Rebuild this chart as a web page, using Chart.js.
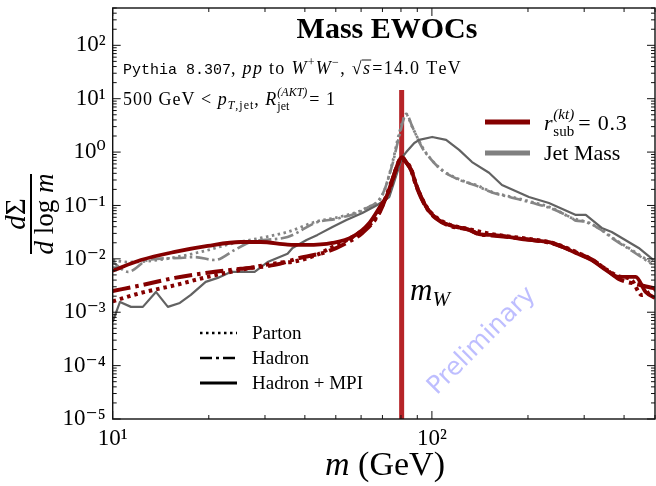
<!DOCTYPE html>
<html><head><meta charset="utf-8">
<script src="https://cdn.jsdelivr.net/npm/chart.js@4.4.0/dist/chart.umd.min.js"></script>
<style>html,body{margin:0;padding:0;background:#fff}#wrap{width:656px;height:486px}</style>
</head><body><div id="wrap"><canvas id="c" width="656" height="486"></canvas></div>
<script>
// ---------------- data ----------------
const mW = 80.4;
const mWLineTop = 14.5;
const xMin = 10, xMax = 500, yMin = 1e-5, yMax = 500;
const xTickValues = [10, 100];
const xTickLabels = ['10\u00b9', '10\u00b2'];
const yTickValues = [1e-5, 1e-4, 1e-3, 1e-2, 1e-1, 1, 10, 100];
const yTickLabels = ['10\u207b\u2075', '10\u207b\u2074', '10\u207b\u00b3', '10\u207b\u00b2', '10\u207b\u00b9', '10\u2070', '10\u00b9', '10\u00b2'];

// r_sub^(kt)=0.3 : Hadron + MPI (solid)
const subMpiX = [10, 12.26, 15.65, 19.85, 25.17, 29.07, 35.3, 40.48, 48.8, 56.36, 63.68, 69.93, 71.98, 75.15, 79.05, 80.8, 83.13, 86.18, 89.34, 95.98, 103.1, 113.3, 130.8, 140.5, 154.3, 201.4, 237.7, 282.5, 316.9, 350.5, 384.8, 434.9, 467.4, 500];
const subMpiY = [0.0060, 0.0095, 0.0135, 0.0175, 0.0207, 0.0207, 0.0185, 0.0182, 0.0199, 0.0257, 0.047, 0.111, 0.144, 0.30, 0.70, 0.80, 0.64, 0.46, 0.24, 0.094, 0.058, 0.043, 0.035, 0.029, 0.028, 0.0226, 0.0199, 0.0129, 0.0095, 0.0062, 0.0046, 0.0046, 0.0024, 0.00185];
// r_sub : Hadron (dash-dot)
const subHadX = [10, 12.26, 15.65, 19.85, 25.17, 32.16, 38.48, 46.74, 53.98, 60.55, 68.43, 75.15, 80.2, 83.13, 86.18, 89.34, 95.98, 103.1, 113.3, 130.8, 140.5, 154.3, 201.4, 237.7, 282.5, 316.9, 350.5, 384.8, 444.5, 484.5, 500];
const subHadY = [0.0025, 0.0032, 0.0044, 0.0055, 0.0065, 0.0077, 0.0104, 0.0135, 0.0199, 0.0306, 0.0724, 0.30, 0.76, 0.64, 0.45, 0.23, 0.092, 0.057, 0.042, 0.035, 0.029, 0.0275, 0.023, 0.0195, 0.0132, 0.0097, 0.0064, 0.0042, 0.0033, 0.0029, 0.0028];
// r_sub : Parton (dotted)
const subPartonX = [10, 12.26, 15.65, 19.85, 25.17, 33.57, 36.59, 43.49, 48.8, 56.36, 66.96, 73.55, 80.2, 83.13, 86.18, 89.34, 95.98, 103.1, 113.3, 130.8, 154.3, 201.4, 237.7, 282.5, 316.9, 350.5, 384.8, 422.6, 454.2, 500];
const subPartonY = [0.0016, 0.0023, 0.0032, 0.0046, 0.0062, 0.0085, 0.0088, 0.0118, 0.0167, 0.0257, 0.061, 0.195, 0.72, 0.66, 0.47, 0.24, 0.096, 0.060, 0.044, 0.036, 0.029, 0.0235, 0.020, 0.0135, 0.0097, 0.0064, 0.0047, 0.0040, 0.0021, 0.0027];
// Jet mass : Hadron + MPI (solid)
const jetMpiX = [10, 10.54, 11.41, 12.43, 13.66, 14.89, 16.23, 17.57, 19.56, 21.33, 23.43, 27.84, 30.57, 35.3, 36.59, 40.48, 43.81, 48.8, 53.98, 60.55, 67.45, 73.55, 80.79, 83.13, 88.07, 91.27, 100.2, 110.8, 121.7, 133.6, 151.0, 165.8, 201.4, 232.6, 282.5, 303.5, 340.5, 366.0, 444.5, 495];
const jetMpiY = [0.00066, 0.00156, 0.00126, 0.00126, 0.0024, 0.00126, 0.00149, 0.00211, 0.0037, 0.0044, 0.0057, 0.0057, 0.0087, 0.0125, 0.016, 0.0226, 0.0281, 0.0396, 0.0535, 0.0724, 0.102, 0.144, 0.81, 1.0, 1.48, 1.69, 1.92, 1.69, 1.10, 0.65, 0.41, 0.242, 0.144, 0.111, 0.0664, 0.0664, 0.0379, 0.0319, 0.016, 0.0095];
// Jet mass : Hadron (dash-dot)
const jetHadX = [10, 11.16, 12.89, 16.35, 18.08, 20.87, 24.11, 27.05, 35.3, 43.49, 51.32, 62.32, 69.93, 75.15, 79.05, 83.13, 86.8, 93.27, 98.08, 107.7, 119.1, 130.8, 137.5, 154.3, 178.2, 205.8, 237.7, 274.4, 282.5, 303.5, 333.3, 376.7, 422.6, 488];
const jetHadY = [0.0088, 0.0057, 0.0095, 0.0104, 0.0108, 0.0095, 0.0147, 0.0207, 0.0257, 0.048, 0.058, 0.088, 0.16, 0.58, 2.0, 5.2, 3.0, 1.2, 0.80, 0.45, 0.32, 0.26, 0.235, 0.175, 0.14, 0.112, 0.087, 0.058, 0.052, 0.050, 0.037, 0.022, 0.0142, 0.0080];
// Jet mass : Parton (dotted)
const jetPartonX = [10, 11.16, 13.86, 18.87, 24.11, 29.07, 35.3, 43.49, 51.32, 62.32, 69.93, 75.15, 79.05, 83.13, 86.8, 93.27, 98.08, 107.7, 119.1, 130.8, 137.5, 154.3, 178.2, 205.8, 237.7, 274.4, 303.5, 333.3, 376.7, 422.6, 488];
const jetPartonY = [0.0095, 0.0087, 0.0095, 0.0135, 0.0199, 0.0246, 0.0319, 0.050, 0.061, 0.090, 0.155, 0.62, 2.3, 5.0, 2.95, 1.25, 0.81, 0.46, 0.327, 0.264, 0.242, 0.179, 0.144, 0.116, 0.0898, 0.0583, 0.0491, 0.0379, 0.0226, 0.0147, 0.0084];

// ---------------- styling ----------------
const RED = '#850000';
const VRED = 'rgb(182,36,40)';
const GRAY_S = '#626262';
const GRAY_D = '#858585';
const SERIF = "'Liberation Serif','DejaVu Serif',serif";
const MONO = "'Liberation Mono','DejaVu Sans Mono',monospace";
const F = (size, style) => (style ? style + ' ' : '') + size + 'px ' + SERIF;

const pts = (xs, ys) => xs.map((x, i) => ({x: x, y: ys[i]}));

function drawRich(ctx, x, y, segs, align, spacing) {
  const sp = spacing || 0;
  let total = 0;
  for (const s of segs) {
    if (s.stack) {
      let w = 0;
      for (const p of s.stack) { ctx.font = p.font; w = Math.max(w, ctx.measureText(p.t).width); }
      s.w = w;
    } else { ctx.font = s.font; s.w = ctx.measureText(s.t).width + (s.mono ? 0 : sp * s.t.length); }
    s.w += (s.dx || 0);
    total += s.w;
  }
  let cx = align === 'center' ? x - total / 2 : (align === 'right' ? x - total : x);
  ctx.textAlign = 'left'; ctx.textBaseline = 'alphabetic';
  for (const s of segs) {
    if (s.stack) {
      for (const p of s.stack) { ctx.font = p.font; ctx.fillText(p.t, cx, y + p.dy); }
    } else {
      ctx.font = s.font;
      if (sp && !s.mono) {
        let px = cx;
        for (const ch of s.t) { ctx.fillText(ch, px, y + (s.dy || 0)); px += ctx.measureText(ch).width + sp; }
      } else ctx.fillText(s.t, cx, y + (s.dy || 0));
      if (s.over !== undefined) {
        ctx.save(); ctx.lineWidth = 0.9; ctx.strokeStyle = ctx.fillStyle;
        ctx.beginPath(); ctx.moveTo(cx - 1, y + s.over); ctx.lineTo(cx + s.w - (s.dx || 0), y + s.over); ctx.stroke(); ctx.restore();
      }
    }
    cx += s.w;
  }
  return total;
}

function legLine(ctx, x1, x2, y, color, width, dash) {
  ctx.save(); ctx.strokeStyle = color; ctx.lineWidth = width; ctx.setLineDash(dash || []);
  ctx.lineCap = 'butt'; ctx.beginPath(); ctx.moveTo(x1, y); ctx.lineTo(x2, y); ctx.stroke(); ctx.restore();
}

const deco = {
  id: 'deco',
  afterDatasetsDraw(chart) {
    const ctx = chart.ctx, a = chart.chartArea;
    const xs = chart.scales.x, ys = chart.scales.y;
    ctx.save();
    // watermark
    ctx.save();
    ctx.translate(482, 341); ctx.rotate(-Math.PI / 4);
    ctx.font = "25px 'DejaVu Sans', sans-serif"; ctx.fillStyle = 'rgba(100,100,255,0.42)';
    ctx.textAlign = 'center'; ctx.textBaseline = 'middle';
    ctx.fillText('Preliminary', 0, 0);
    ctx.restore();
    // border
    ctx.strokeStyle = '#111'; ctx.lineWidth = 1.4;
    ctx.strokeRect(a.left, a.top, a.right - a.left, a.bottom - a.top);
    // inward ticks
    ctx.lineWidth = 1;
    ctx.beginPath();
    for (let e = -5; e <= 2; e++) {
      for (let k = 1; k <= 9; k++) {
        const v = k * Math.pow(10, e);
        if (v < yMin || v > yMax) continue;
        const p = ys.getPixelForValue(v), L = k === 1 ? 8 : 4;
        ctx.moveTo(a.left, p); ctx.lineTo(a.left + L, p);
        ctx.moveTo(a.right, p); ctx.lineTo(a.right - L, p);
      }
    }
    for (let e = 1; e <= 2; e++) {
      for (let k = 1; k <= 9; k++) {
        const v = k * Math.pow(10, e);
        if (v < xMin || v > xMax) continue;
        const p = xs.getPixelForValue(v), L = k === 1 ? 8 : 4;
        ctx.moveTo(p, a.bottom); ctx.lineTo(p, a.bottom - L);
        ctx.moveTo(p, a.top); ctx.lineTo(p, a.top + L);
      }
    }
    ctx.stroke();

    ctx.fillStyle = '#000';
    // title
    ctx.font = F(30, 'bold'); ctx.textAlign = 'center'; ctx.textBaseline = 'alphabetic';
    ctx.fillText('Mass EWOCs', 387, 38);
    // info lines
    drawRich(ctx, 123, 74, [
      {t: 'Pythia 8.307', font: '15px ' + MONO, mono: true},
      {t: ', ', font: F(18)}, {t: 'pp', font: F(18, 'italic')}, {t: ' to ', font: F(18)},
      {t: 'W', font: F(18, 'italic')}, {t: '+', font: F(12), dy: -8},
      {t: 'W', font: F(18, 'italic')}, {t: '\u2212', font: F(12), dy: -8},
      {t: ', ', font: F(18)}, {t: '\u221a', font: F(18)}, {t: 's', font: F(18, 'italic'), over: -14, dx: 1},
      {t: '=14.0 TeV', font: F(18)}
    ], 'left', 1.3);
    drawRich(ctx, 123, 105, [
      {t: '500 GeV < ', font: F(18)}, {t: 'p', font: F(18, 'italic')},
      {t: 'T', font: F(12, 'italic'), dy: 4}, {t: ',jet', font: F(12), dy: 4},
      {t: ', ', font: F(18)}, {t: 'R', font: F(18, 'italic')},
      {stack: [{t: '(AKT)', font: F(12, 'italic'), dy: -9}, {t: 'jet', font: F(12), dy: 5}], dx: 2},
      {t: '= 1', font: F(18)}
    ], 'left', 1.0);
    // top-right legend
    legLine(ctx, 485, 530, 122, RED, 5);
    legLine(ctx, 485, 530, 153, '#808080', 5);
    drawRich(ctx, 544, 130, [
      {t: 'r', font: F(22, 'italic')},
      {stack: [{t: '(kt)', font: F(15, 'italic'), dy: -11}, {t: 'sub', font: F(15), dy: 6}], dx: 4},
      {t: '= 0.3', font: F(22)}
    ], 'left', 0.8);
    drawRich(ctx, 544, 160, [{t: 'Jet Mass', font: F(22)}]);
    // bottom-left legend
    legLine(ctx, 200, 237, 333, '#000', 2.5, [2.5, 3.5]);
    legLine(ctx, 200, 237, 358, '#000', 2.5, [12, 4, 3, 4]);
    legLine(ctx, 200, 237, 383, '#000', 3);
    drawRich(ctx, 252, 339, [{t: 'Parton', font: F(19)}]);
    drawRich(ctx, 252, 364, [{t: 'Hadron', font: F(19)}]);
    drawRich(ctx, 252, 389, [{t: 'Hadron + MPI', font: F(19)}]);
    // m_W label
    drawRich(ctx, 410, 300, [{t: 'm', font: F(31, 'italic')}, {t: 'W', font: F(21, 'italic'), dy: 6}]);
    // x axis title
    drawRich(ctx, 385, 475, [{t: 'm', font: F(34, 'italic')}, {t: ' (GeV)', font: F(34)}], 'center');
    // y axis title (fraction), rotated
    ctx.save();
    ctx.translate(31, 214); ctx.rotate(-Math.PI / 2);
    drawRich(ctx, 0, -6, [{t: 'd', font: F(29, 'italic')}, {t: '\u03a3', font: F(29)}], 'center');
    drawRich(ctx, 0, 22, [{t: 'd', font: F(27, 'italic')}, {t: ' log ', font: F(27)}, {t: 'm', font: F(27, 'italic')}], 'center');
    ctx.lineWidth = 2; ctx.strokeStyle = '#000';
    ctx.beginPath(); ctx.moveTo(-40, 0); ctx.lineTo(40, 0); ctx.stroke();
    ctx.restore();
    ctx.restore();
  }
};

const ds = (label, xs, ys, color, width, dash, order, interp) => ({
  label: label, data: pts(xs, ys), borderColor: color, borderWidth: width,
  borderDash: dash || [], pointRadius: 0, fill: false, order: order,
  tension: 0, cubicInterpolationMode: interp ? 'monotone' : 'default', borderCapStyle: 'butt', borderJoinStyle: 'round'
});

const noPad = s => { s.paddingTop = 0; s.paddingBottom = 0; s.paddingLeft = 0; s.paddingRight = 0; };

new Chart(document.getElementById('c'), {
  type: 'line',
  data: {
    datasets: [
      ds('m_W', [mW, mW], [yMin, mWLineTop], VRED, 5, [], 10, false),
      ds('Jet Mass, Hadron + MPI', jetMpiX, jetMpiY, GRAY_S, 2.2, [], 5, false),
      ds('Jet Mass, Hadron', jetHadX, jetHadY, GRAY_D, 2.6, [13, 3.5, 2.5, 3.5], 5, true),
      ds('Jet Mass, Parton', jetPartonX, jetPartonY, GRAY_D, 2.8, [2.5, 3.5], 5, true),
      ds('r_sub = 0.3, Hadron + MPI', subMpiX, subMpiY, RED, 3.8, [], 1, true),
      ds('r_sub = 0.3, Hadron', subHadX, subHadY, RED, 4, [18, 5, 3.5, 5], 1, true),
      ds('r_sub = 0.3, Parton', subPartonX, subPartonY, RED, 4, [3.5, 4], 1, true)
    ]
  },
  options: {
    responsive: false, animation: false, devicePixelRatio: 1,
    layout: {padding: {top: 8, right: 1, left: 0, bottom: 0}, autoPadding: false},
    plugins: {legend: {display: false}, tooltip: {enabled: false}, title: {display: false}},
    scales: {
      x: {
        type: 'logarithmic', min: xMin, max: xMax,
        grid: {display: false, drawTicks: false}, border: {display: false},
        afterBuildTicks: s => { s.ticks = xTickValues.map(v => ({value: v})); },
        afterFit: s => { s.height = 67; noPad(s); },
        ticks: {
          color: '#000', font: {family: SERIF, size: 23}, padding: 6, maxRotation: 0, autoSkip: false,
          callback: v => { const i = xTickValues.findIndex(t => Math.abs(t - v) / t < 1e-6); return i >= 0 ? xTickLabels[i] : ''; }
        }
      },
      y: {
        type: 'logarithmic', min: yMin, max: yMax,
        grid: {display: false, drawTicks: false}, border: {display: false},
        afterBuildTicks: s => { s.ticks = yTickValues.map(v => ({value: v})); },
        afterFit: s => { s.width = 112.7; noPad(s); },
        ticks: {
          color: '#000', font: {family: SERIF, size: 23}, padding: 7, autoSkip: false,
          callback: v => { const i = yTickValues.findIndex(t => Math.abs(t - v) / t < 1e-6); return i >= 0 ? yTickLabels[i] : ''; }
        }
      }
    }
  },
  plugins: [deco]
});
</script>
</body></html>
